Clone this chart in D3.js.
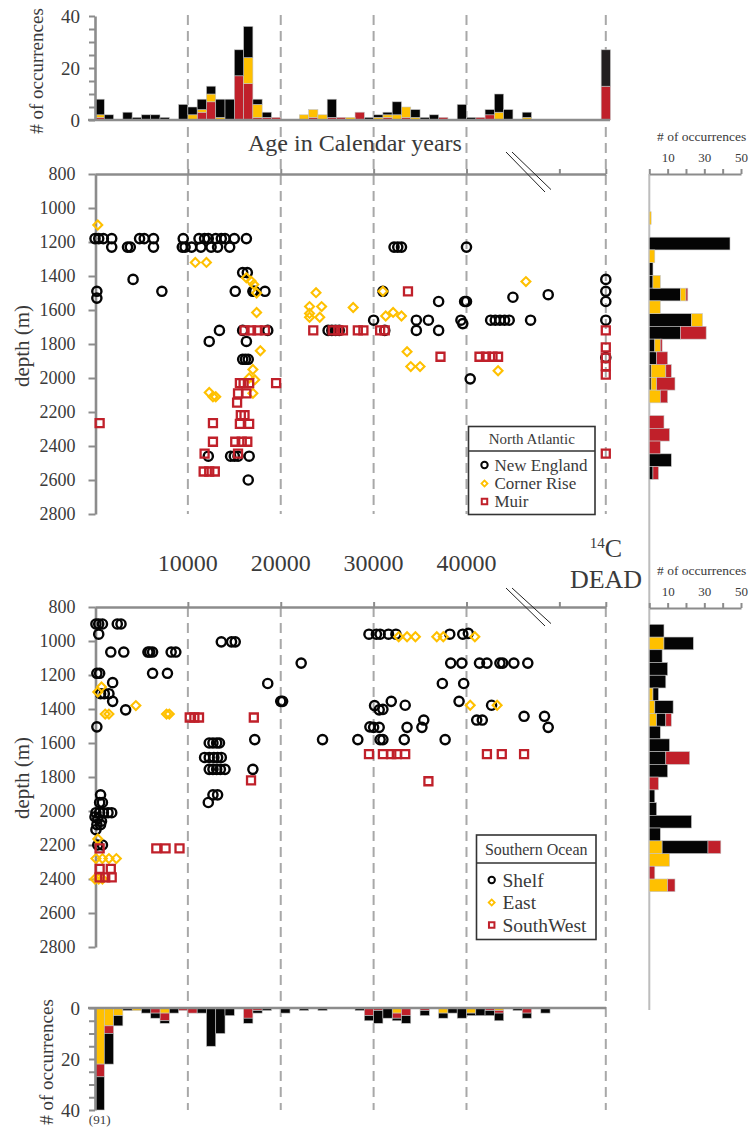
<!DOCTYPE html>
<html>
<head>
<meta charset="utf-8">
<script src="https://cdn.jsdelivr.net/npm/d3@7"></script>
<style>
  body { margin: 0; background: #fff; }
  svg text { font-family: "Liberation Serif", "Times New Roman", serif; fill: #3a3a3a; }
</style>
</head>
<body>
<div id="chart"></div>
<script>
// ---------------- data ----------------
// ages in calendar years, depth in m. "DEAD" = 14C dead samples
const DEAD_AGE = 55000; // position of the 14C dead column on the broken age axis

// North Atlantic scatter
const naNewEngland = [
  [0,1180],[400,1180],[900,1180],[1800,1180],[1800,1230],[3500,1230],[3800,1230],[4800,1180],[5300,1180],[6300,1180],[6300,1230],
  [4100,1420],[200,1490],[200,1530],[7200,1490],
  [9400,1230],[9700,1230],[9500,1180],[10400,1230],[11200,1180],[11400,1230],[11800,1180],[12200,1180],[12500,1230],
  [13000,1180],[13200,1230],[13600,1180],[14000,1180],[14500,1230],[15000,1180],[16300,1180],
  [15900,1380],[16400,1380],[15100,1490],[17000,1490],[17200,1490],[18300,1490],
  [13400,1720],[12300,1785],[15900,1720],[16300,1785],[18600,1720],
  [15900,1890],[16200,1890],[16500,1890],
  [12200,2460],[14600,2460],[15000,2460],[15400,2460],[16600,2460],[16500,2600],
  [25100,1720],[25500,1720],[25900,1720],[26300,1720],
  [30000,1660],[31000,1490],[31200,1720],[32200,1230],[32600,1230],[33000,1230],[40000,1230],
  [37000,1550],[39800,1550],[40000,1550],[45000,1525],[48800,1510],
  [34600,1660],[35900,1660],[34600,1720],[37000,1720],[39400,1660],[39600,1680],
  [42600,1660],[43100,1660],[43600,1660],[44100,1660],[44600,1660],[46900,1660],
  [40400,2005],
  ["DEAD",1420],["DEAD",1490],["DEAD",1550],["DEAD",1660],["DEAD",1880]
];
const naCornerRise = [
  [300,1100],[10800,1320],[12000,1320],[16300,1410],[16800,1430],[17100,1450],[17400,1500],[17400,1615],
  [17800,1840],[17000,1950],[17200,2010],[16600,2000],[17000,2090],[12300,2085],[12700,2110],[13000,2110],
  [23100,1580],[23100,1620],[23100,1643],[23800,1498],[24400,1580],[24200,1643],[27800,1585],
  [31000,1490],[31300,1635],[32100,1614],[33000,1635],[33600,1845],[34000,1933],[35000,1933],[43400,1957],[46400,1433]
];
const naMuir = [
  [500,2265],
  [16100,1720],[16800,1720],[17500,1720],[18300,1720],
  [23500,1720],[25600,1720],[26200,1720],[26700,1720],[28300,1720],[28900,1720],[30700,1720],[31200,1720],
  [33700,1490],[37200,1875],[41400,1875],[42100,1875],[42800,1875],[43400,1875],
  [19500,2030],[15600,2030],[16000,2030],[16600,2030],[15400,2090],[16300,2090],[15300,2145],
  [15700,2218],[16100,2218],[15600,2270],[16600,2270],[12700,2265],[12700,2375],[15100,2375],[15800,2375],[16400,2375],
  [11800,2445],[15400,2445],[11700,2550],[12300,2550],[12900,2550],
  ["DEAD",1720],["DEAD",1820],["DEAD",1880],["DEAD",1930],["DEAD",1980],["DEAD",2445]
];

// Southern Ocean scatter
const soShelf = [
  [100,900],[400,900],[800,900],[2400,900],[2800,900],[400,960],
  [1700,1065],[3100,1065],[5700,1065],[5900,1065],[6200,1065],[8200,1065],[8700,1065],
  [200,1190],[500,1190],[6200,1190],[7800,1190],
  [1900,1245],[600,1310],[1000,1310],[1500,1310],[1900,1355],[3300,1405],[200,1505],
  [13600,1005],[14700,1005],[15100,1005],[22200,1130],[18600,1250],[20000,1355],[20200,1355],
  [17200,1580],[24500,1580],[28300,1580],
  [12300,1600],[12700,1600],[13100,1600],[13400,1600],
  [11800,1685],[12300,1685],[12800,1685],[13200,1685],[13600,1685],
  [12300,1755],[12700,1755],[13100,1755],[13500,1755],[14000,1755],[17000,1755],
  [12700,1905],[13200,1905],[12200,1950],
  [600,1905],[500,1950],[800,1950],
  [100,2010],[500,2010],[900,2010],[1400,2010],[1800,2010],
  [0,2035],[300,2045],[700,2060],[200,2080],[600,2080],[100,2110],[300,2200],[800,2200],
  [29500,960],[30300,960],[30700,960],[31600,960],[32400,960],[38200,960],[39600,960],[40200,955],
  [38300,1130],[39500,1130],[41400,1130],[42200,1130],[43600,1130],[43900,1130],[45100,1130],[46600,1130],
  [37400,1250],[39700,1250],
  [30100,1380],[30600,1405],[31000,1402],[31900,1355],[33400,1378],[39200,1355],[42700,1378],
  [46200,1443],[48400,1443],[48800,1508],
  [29600,1505],[30000,1508],[30600,1508],[33600,1508],[35200,1508],[35400,1465],[41100,1465],[41700,1465],
  [30700,1580],[31000,1580],[33300,1580],[37700,1580]
];
const soEast = [
  [300,1300],[700,1270],[1100,1430],[1500,1430],[4400,1380],[7700,1430],[8000,1430],
  [32700,975],[33600,975],[34500,975],[36800,975],[37500,975],[40900,975],[40400,1378],[43300,1378],
  [300,2165],[100,2280],[800,2280],[1500,2280],[2300,2280],[0,2400],[400,2400],[800,2400]
];
const soSouthWest = [
  [10200,1450],[10700,1450],[11200,1450],[17100,1450],[16800,1820],
  [29500,1665],[31000,1665],[31900,1665],[32500,1665],[33400,1665],[42200,1665],[43800,1665],[46200,1665],[35900,1825],
  [500,2220],[6600,2220],[7600,2220],[9100,2220],[500,2340],[1700,2340],[500,2390],[1100,2390],[1800,2390]
];

// age histograms (1000-yr bins, bin start)
const naAgeBins   = [0,1000,3000,4000,5000,6000,7000,9000,10000,11000,12000,13000,14000,15000,16000,17000,18000,19000,
                     22000,23000,24000,25000,26000,27000,28000,29000,30000,31000,32000,33000,34000,35000,36000,37000,
                     39000,40000,41000,42000,43000,44000,46000,"DEAD"];
const naAgeBlack  = [6,2,3,1,2,2,1,6,3,4, 3,7,8,10,12,2,2,0, 0,0,0,7,0,0,0,1, 1,1,5,0,3,1,2,0, 6,1,0,2,7,4,2, 14];
const naAgeYellow = [1,0,0,0,0,0,0,0,2,1, 3,1,0,0,10,5,0,0, 2,3,2,0,0,1,0,0, 1,1,2,4,1,0,0,0, 0,0,0,0,3,0,1, 0];
const naAgeRed    = [1,0,0,0,0,0,0,0,0,3, 7,0,0,17,14,1,1,1, 0,1,0,1,1,0,3,0, 0,1,0,1,0,0,0,1, 0,0,1,2,0,0,0, 13];

const soAgeBins   = [0,1000,2000,3000,4000,5000,6000,7000,8000,9000,10000,11000,12000,13000,14000,16000,17000,18000,
                     20000,22000,24000,28000,29000,30000,31000,32000,33000,35000,37000,38000,39000,40000,41000,42000,43000,
                     45000,46000,48000];
const soAgeYellow = [22,7,3,0,1,0,0,2,0,0,0,0,0,0,0, 0,0,0, 0,0,0, 0,0,0,0,2,0, 0,2,0,0,2,0,0,1, 0,0,0];
const soAgeRed    = [5,3,0,0,0,0,2,3,0,1,2,0,0,0,0, 4,1,0, 0,0,0, 0,3,1,0,2,3, 1,0,0,0,0,0,1,1, 0,2,0];
const soAgeBlack  = [64,12,4,1,0,2,2,1,2,0,0,2,15,10,3, 2,1,1, 2,1,1, 1,2,5,4,1,3, 2,2,2,4,1,3,2,3, 1,2,2];
const soFirstTotal = "(91)";

// depth histograms (bin start, m)
const naDepthBins   = [1100,1175,1250,1325,1400,1475,1550,1625,1700,1775,1850,1925,2000,2075,2150,2225,2300,2375,2450,2525,2600];
const naDepthBlack  = [0,0,44,0,2,2,17,0,23,17,3,4,1,1,0,0,0,0,0,12,2];
const naDepthYellow = [1,0,0,3,0,4,3,6,6,0,3,0,8,3,6,0,0,0,0,0,0];
const naDepthRed    = [0,0,0,0,0,0,1,0,0,14,1,6,3,10,4,0,8,11,6,0,3];

const soDepthBins   = [900,975,1050,1125,1200,1275,1350,1425,1500,1575,1650,1725,1800,1875,1950,2025,2100,2175,2250,2325,2400];
const soDepthYellow = [0,8,0,0,0,2,3,4,0,0,0,0,0,0,0,0,0,7,11,0,10];
const soDepthBlack  = [8,16,7,10,9,3,10,5,6,11,9,10,0,3,4,23,6,25,0,0,0];
const soDepthRed    = [0,0,0,0,0,0,0,3,0,0,13,0,5,0,0,0,0,7,0,3,4];

const depthTicks = [800,1000,1200,1400,1600,1800,2000,2200,2400,2600,2800];
const ageLabels = [10000,20000,30000,40000];

// ---------------- drawing ----------------
const BLACK = "#050505", YELLOW = "#FFC000", RED = "#C0202A", GRAY = "#8c8c8c";
const colors = {black: BLACK, yellow: YELLOW, red: RED};

let svg = d3.select("#chart").append("svg")
    .attr("width", 749)
    .attr("height", 1129);

let x = d3.scaleLinear().domain([0, DEAD_AGE]).range([95, 605.8]);
let ax = a => a === "DEAD" ? x(DEAD_AGE) : x(a);
let binW = x(1000) - x(0);

let yHistTop = d3.scaleLinear().domain([0, 40]).range([120, 16]);
let yHistBot = d3.scaleLinear().domain([0, 40]).range([1008, 1110]).clamp(true);
let yNA = d3.scaleLinear().domain([800, 2800]).range([174, 514]);
let ySO = d3.scaleLinear().domain([800, 2800]).range([607, 947]);
let xR = d3.scaleLinear().domain([0, 50]).range([649.3, 741]);
let yRNA = d3.scaleLinear().domain([1100, 2675]).range([211.7, 479.3]);
let yRSO = d3.scaleLinear().domain([900, 2475]).range([624.3, 891.7]);

function styleAxis(g, size) {
    g.attr("font-family", null).attr("font-size", null);
    g.select(".domain").attr("stroke", GRAY).attr("stroke-width", 2.6);
    g.selectAll(".tick line").attr("stroke", GRAY).attr("stroke-width", 2);
    g.selectAll(".tick text").attr("fill", "#3a3a3a").style("font-size", size + "px");
}

// dashed guide lines
let guides = ageLabels.concat([DEAD_AGE]);
[[15, 514], [607, 1110]].forEach(function (r) {
    svg.append("g").selectAll("line")
        .data(guides)
        .join("line")
        .attr("x1", d => x(d)).attr("x2", d => x(d))
        .attr("y1", r[0]).attr("y2", r[1])
        .attr("stroke", "#a8a8a8")
        .attr("stroke-width", 2)
        .attr("stroke-dasharray", "10,6");
});

// ---- top age histogram (North Atlantic) ----
let naAgeRows = naAgeBins.map((b, i) => ({bin: b, black: naAgeBlack[i], yellow: naAgeYellow[i], red: naAgeRed[i]}));
let naAgeStack = d3.stack().keys(["red", "yellow", "black"])(naAgeRows);
let binX = b => b === "DEAD" ? x(DEAD_AGE - 500) : x(b);

svg.append("g").selectAll("g")
    .data(naAgeStack)
    .join("g")
    .selectAll("rect")
    .data(d => d.filter(v => v[1] > v[0]).map(v => Object.assign(v, {key: d.key})))
    .join("rect")
    .attr("x", d => binX(d.data.bin))
    .attr("width", binW)
    .attr("y", d => yHistTop(d[1]))
    .attr("height", d => yHistTop(d[0]) - yHistTop(d[1]))
    .attr("fill", d => (d.key === "black" && d.data.bin === "DEAD") ? "#231F20" : colors[d.key])
    .attr("stroke", "#c4c4c4")
    .attr("stroke-width", 0.6);

svg.append("line").attr("x1", 88).attr("x2", 610).attr("y1", 120).attr("y2", 120)
    .attr("stroke", GRAY).attr("stroke-width", 2.6);
svg.append("g")
    .attr("transform", "translate(95,0)")
    .call(d3.axisLeft(yHistTop).tickValues(d3.range(0, 41, 5)).tickSize(6).tickSizeOuter(0).tickPadding(9)
        .tickFormat(d => d % 20 === 0 ? d : ""))
    .call(g => styleAxis(g, 19));

svg.append("text")
    .attr("transform", "translate(36,71) rotate(-90)")
    .attr("text-anchor", "middle")
    .attr("dominant-baseline", "central")
    .style("font-size", "19px")
    .text("# of occurrences");

svg.append("text")
    .attr("x", 355).attr("y", 151)
    .attr("text-anchor", "middle")
    .style("font-size", "24px")
    .text("Age in Calendar years");

// ---- scatter panels ----
function scatterAxes(yScale, top) {
    svg.append("g")
        .attr("transform", "translate(95.5,0)")
        .call(d3.axisLeft(yScale).tickValues(depthTicks).tickSize(7).tickSizeOuter(0).tickPadding(13)
            .tickFormat(d3.format("d")))
        .call(g => styleAxis(g, 18));
    svg.append("g")
        .attr("transform", `translate(0,${top})`)
        .call(d3.axisTop(x).tickValues([10000, 20000, 30000, 40000, 50000, DEAD_AGE]).tickSize(5).tickSizeOuter(0).tickFormat(""))
        .call(g => styleAxis(g, 12));
}
scatterAxes(yNA, 174);
scatterAxes(ySO, 607);

function drawPoints(data, yScale, kind) {
    let g = svg.append("g");
    if (kind === "circle") {
        g.selectAll("circle").data(data).join("circle")
            .attr("cx", d => ax(d[0])).attr("cy", d => yScale(d[1]))
            .attr("r", 4.6)
            .attr("fill", "none").attr("stroke", BLACK).attr("stroke-width", 2.4);
    } else if (kind === "diamond") {
        g.selectAll("path").data(data).join("path")
            .attr("d", d3.symbol(d3.symbolSquare, 40)())
            .attr("transform", d => `translate(${ax(d[0])},${yScale(d[1])}) rotate(45)`)
            .attr("fill", "none").attr("stroke", YELLOW).attr("stroke-width", 2.1);
    } else {
        g.selectAll("path").data(data).join("path")
            .attr("d", d3.symbol(d3.symbolSquare, 64)())
            .attr("transform", d => `translate(${ax(d[0])},${yScale(d[1])})`)
            .attr("fill", "none").attr("stroke", RED).attr("stroke-width", 2.3);
    }
}
drawPoints(naNewEngland, yNA, "circle");
drawPoints(naCornerRise, yNA, "diamond");
drawPoints(naMuir, yNA, "square");
drawPoints(soShelf, ySO, "circle");
drawPoints(soEast, ySO, "diamond");
drawPoints(soSouthWest, ySO, "square");

// axis breaks
[[152, 192], [588, 626]].forEach(function (b) {
    [0, 6].forEach(function (o) {
        svg.append("line")
            .attr("x1", 506 + o).attr("y1", b[0])
            .attr("x2", 545 + o).attr("y2", b[1] - o * 0.4)
            .attr("stroke", "#222").attr("stroke-width", 1);
    });
});

// depth labels
[[346, "depth (m)"], [778, "depth (m)"]].forEach(function (t) {
    svg.append("text")
        .attr("transform", `translate(22,${t[0]}) rotate(-90)`)
        .attr("text-anchor", "middle")
        .attr("dominant-baseline", "central")
        .style("font-size", "21px")
        .text(t[1]);
});

// middle age labels
svg.append("g").selectAll("text")
    .data(ageLabels)
    .join("text")
    .attr("x", d => x(d)).attr("y", 571)
    .attr("text-anchor", "middle")
    .style("font-size", "24px")
    .text(d => d);
let deadLbl = svg.append("text").attr("x", 606).attr("y", 557).attr("text-anchor", "middle").style("font-size", "26px");
deadLbl.append("tspan").attr("dy", -9).style("font-size", "15px").text("14");
deadLbl.append("tspan").attr("dy", 9).text("C");
svg.append("text").attr("x", 606).attr("y", 588).attr("text-anchor", "middle").style("font-size", "26px").text("DEAD");

// legends
function legend(x0, y0, w, h, sepY, title, titleSize, items, itemSize, rowY, mx, tx) {
    let g = svg.append("g");
    g.append("rect").attr("x", x0).attr("y", y0).attr("width", w).attr("height", h)
        .attr("fill", "#fff").attr("stroke", "#333").attr("stroke-width", 1.6);
    g.append("line").attr("x1", x0).attr("x2", x0 + w).attr("y1", sepY).attr("y2", sepY)
        .attr("stroke", "#333").attr("stroke-width", 1.6);
    g.append("text").attr("x", x0 + w / 2).attr("y", y0 + (sepY - y0) / 2)
        .attr("text-anchor", "middle").attr("dominant-baseline", "central")
        .style("font-size", titleSize + "px").text(title);
    items.forEach(function (it, i) {
        let cy = rowY[i];
        if (it.kind === "circle") {
            g.append("circle").attr("cx", mx).attr("cy", cy).attr("r", 3.2)
                .attr("fill", "none").attr("stroke", BLACK).attr("stroke-width", 2);
        } else if (it.kind === "diamond") {
            g.append("path").attr("d", d3.symbol(d3.symbolSquare, 18)())
                .attr("transform", `translate(${mx},${cy}) rotate(45)`)
                .attr("fill", "none").attr("stroke", YELLOW).attr("stroke-width", 1.8);
        } else {
            g.append("path").attr("d", d3.symbol(d3.symbolSquare, 30)())
                .attr("transform", `translate(${mx},${cy})`)
                .attr("fill", "none").attr("stroke", RED).attr("stroke-width", 2);
        }
        g.append("text").attr("x", tx).attr("y", cy).attr("dominant-baseline", "central")
            .style("font-size", itemSize + "px").text(it.name);
    });
}
legend(468.5, 426.5, 126.5, 88, 451, "North Atlantic", 15,
    [{name: "New England", kind: "circle"}, {name: "Corner Rise", kind: "diamond"}, {name: "Muir", kind: "square"}],
    17, [465, 483.5, 501.5], 484.5, 494.5);
legend(476.5, 835, 119.5, 104.5, 863, "Southern Ocean", 16,
    [{name: "Shelf", kind: "circle"}, {name: "East", kind: "diamond"}, {name: "SouthWest", kind: "square"}],
    19.5, [880, 902.5, 925], 491.7, 502.5);

// ---- bottom age histogram (Southern Ocean) ----
let soAgeRows = soAgeBins.map((b, i) => ({bin: b, yellow: soAgeYellow[i], red: soAgeRed[i], black: soAgeBlack[i]}));
let soAgeStack = d3.stack().keys(["yellow", "red", "black"])(soAgeRows);
svg.append("g").selectAll("g")
    .data(soAgeStack)
    .join("g")
    .attr("fill", d => colors[d.key])
    .selectAll("rect")
    .data(d => d.filter(v => v[1] > v[0]))
    .join("rect")
    .attr("x", d => x(d.data.bin))
    .attr("width", binW)
    .attr("y", d => yHistBot(d[0]))
    .attr("height", d => yHistBot(d[1]) - yHistBot(d[0]))
    .attr("stroke", "#c4c4c4")
    .attr("stroke-width", 0.6);

svg.append("line").attr("x1", 88).attr("x2", 606).attr("y1", 1008).attr("y2", 1008)
    .attr("stroke", GRAY).attr("stroke-width", 2.6);
svg.append("g")
    .attr("transform", "translate(95,0)")
    .call(d3.axisLeft(yHistBot).tickValues(d3.range(0, 41, 5)).tickSize(6).tickSizeOuter(0).tickPadding(9)
        .tickFormat(d => d % 20 === 0 ? d : ""))
    .call(g => styleAxis(g, 19));
svg.append("text")
    .attr("x", x(500)).attr("y", 1124)
    .attr("text-anchor", "middle")
    .style("font-size", "13px")
    .text(soFirstTotal);
svg.append("text")
    .attr("transform", "translate(46,1062) rotate(-90)")
    .attr("text-anchor", "middle")
    .attr("dominant-baseline", "central")
    .style("font-size", "19px")
    .text("# of occurrences");

// ---- right depth histograms ----
svg.append("line").attr("x1", 649.3).attr("x2", 649.3).attr("y1", 174).attr("y2", 1010)
    .attr("stroke", "#bdbdbd").attr("stroke-width", 2);

function depthHist(bins, series, keys, yScale, top) {
    let rows = bins.map((b, i) => {
        let r = {bin: b};
        keys.forEach(k => r[k] = series[k][i]);
        return r;
    });
    let stack = d3.stack().keys(keys)(rows);
    svg.append("g").selectAll("g")
        .data(stack)
        .join("g")
        .attr("fill", d => colors[d.key])
        .selectAll("rect")
        .data(d => d.filter(v => v[1] > v[0]))
        .join("rect")
        .attr("x", d => xR(d[0]))
        .attr("width", d => xR(d[1]) - xR(d[0]))
        .attr("y", d => yScale(d.data.bin))
        .attr("height", d => yScale(d.data.bin + 75) - yScale(d.data.bin))
        .attr("stroke", "#c4c4c4")
        .attr("stroke-width", 0.6);

    svg.append("g")
        .attr("transform", `translate(0,${top})`)
        .call(d3.axisTop(xR).tickValues([0, 10, 20, 30, 40, 50]).tickSize(5).tickSizeOuter(0).tickPadding(7)
            .tickFormat(d => [10, 30, 50].includes(d) ? d : ""))
        .call(g => styleAxis(g, 13))
        .call(g => g.select(".domain").attr("stroke-width", 2.2));
    svg.append("text")
        .attr("x", 657).attr("y", top - 33)
        .style("font-size", "13.5px")
        .text("# of occurrences");
}
depthHist(naDepthBins, {black: naDepthBlack, yellow: naDepthYellow, red: naDepthRed}, ["black", "yellow", "red"], yRNA, 174);
depthHist(soDepthBins, {yellow: soDepthYellow, black: soDepthBlack, red: soDepthRed}, ["yellow", "black", "red"], yRSO, 608);
</script>
</body>
</html>
